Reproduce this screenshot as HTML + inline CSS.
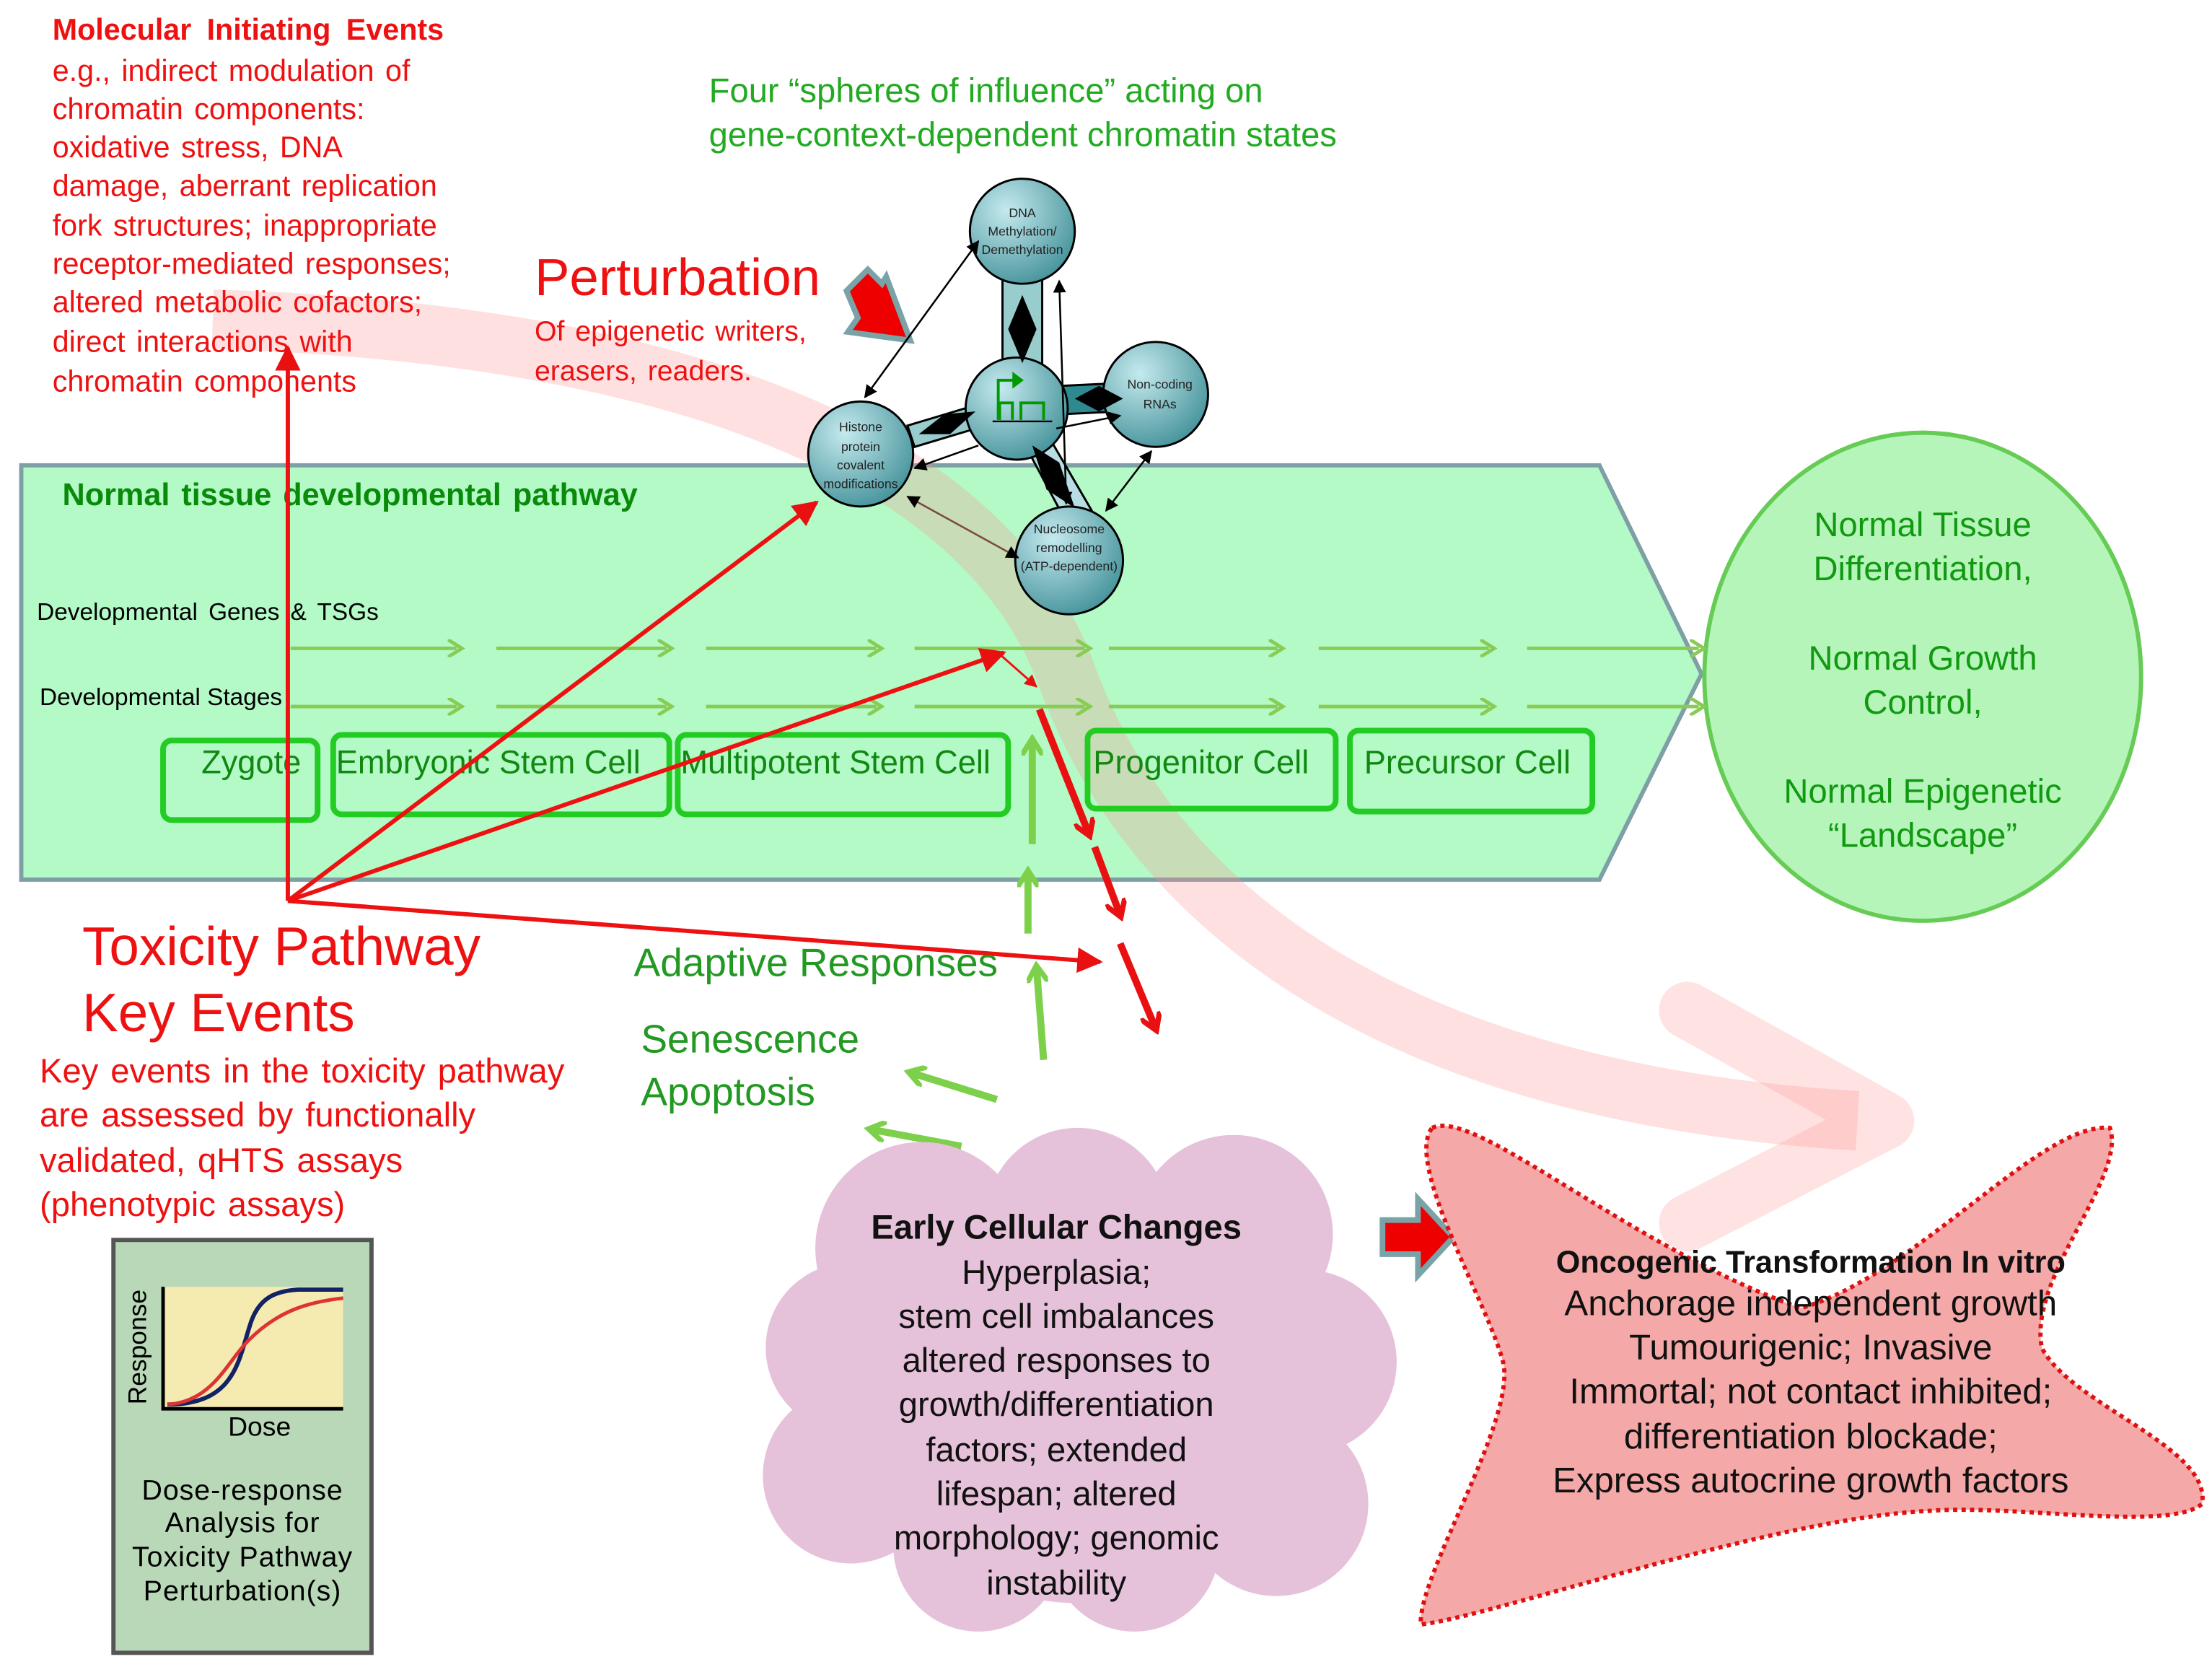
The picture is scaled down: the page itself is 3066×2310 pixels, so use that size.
<!DOCTYPE html>
<html><head><meta charset="utf-8"><style>html,body{margin:0;padding:0;background:#fff}svg{display:block}</style></head>
<body>
<svg width="3066" height="2310" viewBox="0 0 1560 1175" preserveAspectRatio="none" xmlns="http://www.w3.org/2000/svg" font-family="Liberation Sans, sans-serif">
<defs>
<radialGradient id="ng" cx="0.35" cy="0.3" r="0.8"><stop offset="0" stop-color="#c4eaee"/><stop offset="1" stop-color="#3f8e96"/></radialGradient>
<marker id="ar" viewBox="0 0 10 10" refX="9" refY="5" markerWidth="6" markerHeight="6" orient="auto-start-reverse"><path d="M0,0L10,5L0,10z" fill="#e81010"/></marker>
<marker id="ab" viewBox="0 0 10 10" refX="9" refY="5" markerWidth="7" markerHeight="7" orient="auto-start-reverse"><path d="M0,0L10,5L0,10z" fill="#000"/></marker>
<marker id="ag" viewBox="0 0 10 10" refX="5" refY="5" markerWidth="5" markerHeight="5" orient="auto"><path d="M0,0L8,5L0,10" fill="none" stroke="#88cc55" stroke-width="2"/></marker>
<marker id="agt" viewBox="0 0 10 10" refX="7" refY="5" markerWidth="3" markerHeight="3" orient="auto"><path d="M0,0L8,5L0,10" fill="none" stroke="#7cd04a" stroke-width="2.5"/></marker>
<marker id="art" viewBox="0 0 10 10" refX="7" refY="5" markerWidth="3" markerHeight="3" orient="auto"><path d="M0,0L8,5L0,10" fill="none" stroke="#e81010" stroke-width="2.5"/></marker>
</defs>

<!-- green pathway -->
<path d="M15,328 L1128,328 L1200,475 L1128,620 L15,620 Z" fill="#b3fac7" stroke="#7f9fa6" stroke-width="3"/>
<ellipse cx="1356" cy="477" rx="154" ry="172" fill="#b5f5ba" stroke="#66cc55" stroke-width="3"/>

<!-- pink band -->
<path d="M150,225 C480,235 690,320 750,470 C810,640 980,770 1310,790" fill="none" stroke="#ff9090" stroke-opacity="0.28" stroke-width="42"/>
<path d="M1190,712 L1330,790 L1190,862" fill="none" stroke="#ff9090" stroke-opacity="0.25" stroke-width="40" stroke-linejoin="round" stroke-linecap="round"/>

<!-- top-left text -->
<g fill="#ee1111" font-size="21" word-spacing="2">
<text x="37" y="28" font-weight="bold" word-spacing="5">Molecular  Initiating  Events</text>
<text x="37" y="57">e.g., indirect modulation  of</text>
<text x="37" y="84">chromatin components:</text>
<text x="37" y="111">oxidative stress, DNA</text>
<text x="37" y="138">damage, aberrant replication</text>
<text x="37" y="166">fork structures;  inappropriate</text>
<text x="37" y="193">receptor-mediated responses;</text>
<text x="37" y="220">altered metabolic cofactors;</text>
<text x="37" y="248">direct interactions with</text>
<text x="37" y="276">chromatin components</text>
</g>
<g fill="#22aa22" font-size="24">
<text x="500" y="72">Four “spheres of influence” acting on</text>
<text x="500" y="103">gene-context-dependent chromatin states</text>
</g>
<text x="377" y="208" fill="#ee1111" font-size="37">Perturbation</text>
<text x="377" y="240" fill="#ee1111" font-size="20" word-spacing="2">Of epigenetic writers,</text>
<text x="377" y="268" fill="#ee1111" font-size="20" word-spacing="2">erasers, readers.</text>
<path d="M597,205 L612,190 L622,200 L625,195 L642,240 L598,234 L605,224 Z" fill="#e00" stroke="#7aa3a8" stroke-width="4"/>

<!-- chromatin nodes -->
<g stroke="#000" stroke-width="1.5">
<rect x="707" y="190" width="28" height="70" fill="#9cc" />
<path d="M640,300 L690,285 L695,300 L645,315Z" fill="#9cc"/>
<path d="M748,272 L790,270 L790,290 L748,292Z" fill="#2f8a90"/>
<path d="M722,312 L738,305 L770,360 L752,368Z" fill="#b8dde2"/>
</g>
<circle cx="721" cy="163" r="37" fill="url(#ng)" stroke="#000" stroke-width="1.5"/>
<circle cx="717" cy="288" r="36" fill="url(#ng)" stroke="#000" stroke-width="1.5"/>
<circle cx="815" cy="278" r="37" fill="url(#ng)" stroke="#000" stroke-width="1.5"/>
<circle cx="607" cy="320" r="37" fill="url(#ng)" stroke="#000" stroke-width="1.5"/>
<circle cx="754" cy="395" r="38" fill="url(#ng)" stroke="#000" stroke-width="1.5"/>
<path d="M721,208 L731,232 L721,256 L711,232Z M648,306 L666,292 L688,290 L670,306Z M758,281 L775,272 L792,281 L775,290Z M728,314 L747,326 L758,358 L738,345Z" fill="#000"/>
<path d="M704,296 L704,268 L716,268" fill="none" stroke="#009900" stroke-width="2"/><path d="M714,262 L722,268 L714,274Z" fill="#009900"/>
<path d="M705,296 L705,284 L714,284 L714,296 M720,296 L720,284 L736,284 L736,296" fill="none" stroke="#009900" stroke-width="2"/>
<line x1="700" y1="297" x2="742" y2="297" stroke="#000" stroke-width="1.2"/>
<g stroke="#000" stroke-width="1.3" fill="none" marker-start="url(#ab)" marker-end="url(#ab)">
<line x1="690" y1="170" x2="610" y2="280"/>
<line x1="747" y1="198" x2="752" y2="355"/>
<line x1="812" y1="318" x2="780" y2="360"/>
<line x1="640" y1="350" x2="718" y2="393" stroke="#7a4a40"/>
</g>
<line x1="690" y1="314" x2="645" y2="330" stroke="#000" stroke-width="1.3" marker-end="url(#ab)"/>
<line x1="745" y1="302" x2="790" y2="293" stroke="#000" stroke-width="1.3" marker-end="url(#ab)"/>
<g font-size="9" fill="#222" text-anchor="middle">
<text x="721" y="153">DNA</text><text x="721" y="166">Methylation/</text><text x="721" y="179">Demethylation</text>
<text x="818" y="274">Non-coding</text><text x="818" y="288">RNAs</text>
<text x="607" y="304">Histone</text><text x="607" y="318">protein</text><text x="607" y="331">covalent</text><text x="607" y="344">modifications</text>
<text x="754" y="376">Nucleosome</text><text x="754" y="389">remodelling</text><text x="754" y="402">(ATP-dependent)</text>
</g>

<!-- pathway internals -->
<text x="44" y="356" fill="#0a8a0a" font-size="22" font-weight="bold" word-spacing="2">Normal tissue developmental pathway</text>
<text x="26" y="437" font-size="17" word-spacing="3">Developmental  Genes  &amp; TSGs</text>
<text x="28" y="497" font-size="17">Developmental  Stages</text>
<g stroke="#88cc55" stroke-width="2.5" marker-end="url(#ag)">
<line x1="205" y1="457" x2="322" y2="457"/><line x1="350" y1="457" x2="470" y2="457"/><line x1="498" y1="457" x2="618" y2="457"/><line x1="645" y1="457" x2="765" y2="457"/><line x1="782" y1="457" x2="901" y2="457"/><line x1="930" y1="457" x2="1050" y2="457"/><line x1="1077" y1="457" x2="1198" y2="457"/>
<line x1="205" y1="498" x2="322" y2="498"/><line x1="350" y1="498" x2="470" y2="498"/><line x1="498" y1="498" x2="618" y2="498"/><line x1="645" y1="498" x2="765" y2="498"/><line x1="782" y1="498" x2="901" y2="498"/><line x1="930" y1="498" x2="1050" y2="498"/><line x1="1077" y1="498" x2="1198" y2="498"/>
</g>
<g fill="none" stroke="#22cc22" stroke-width="4">
<rect x="115" y="522" width="109" height="56" rx="6"/>
<rect x="235" y="518" width="237" height="56" rx="6"/>
<rect x="478" y="518" width="233" height="56" rx="6"/>
<rect x="767" y="515" width="175" height="55" rx="6"/>
<rect x="952" y="515" width="171" height="57" rx="6"/>
</g>
<g fill="#118811" font-size="23">
<text x="142" y="545">Zygote</text>
<text x="237" y="545">Embryonic  Stem  Cell</text>
<text x="480" y="545">Multipotent  Stem  Cell</text>
<text x="771" y="545">Progenitor Cell</text>
<text x="962" y="545">Precursor Cell</text>
</g>
<g fill="#119911" font-size="24" text-anchor="middle">
<text x="1356" y="378">Normal Tissue</text><text x="1356" y="409">Differentiation,</text>
<text x="1356" y="472">Normal Growth</text><text x="1356" y="503">Control,</text>
<text x="1356" y="566">Normal Epigenetic</text><text x="1356" y="597">“Landscape”</text>
</g>

<!-- red arrows -->
<g stroke="#ee1111" stroke-width="3" fill="none" marker-end="url(#ar)">
<line x1="203" y1="635" x2="203" y2="245"/>
<line x1="203" y1="635" x2="576" y2="354"/>
<line x1="203" y1="635" x2="708" y2="460"/>
<line x1="203" y1="635" x2="776" y2="678"/>
</g>
<line x1="706" y1="462" x2="731" y2="484" stroke="#ee1111" stroke-width="1.5" marker-end="url(#ar)"/>
<g stroke="#e81010" stroke-width="5" fill="none" marker-end="url(#art)">
<line x1="733" y1="500" x2="768" y2="588"/>
<line x1="772" y1="597" x2="790" y2="645"/>
<line x1="790" y1="665" x2="815" y2="725"/>
</g>
<!-- green arrows -->
<g stroke="#7cd04a" stroke-width="5" fill="none" marker-end="url(#agt)">
<line x1="728" y1="595" x2="728" y2="522"/>
<line x1="725" y1="658" x2="725" y2="615"/>
<line x1="736" y1="747" x2="731" y2="682"/>
<line x1="703" y1="775" x2="642" y2="756"/>
<line x1="678" y1="808" x2="614" y2="796"/>
</g>

<text x="58" y="680" fill="#ee1111" font-size="38">Toxicity Pathway</text>
<text x="58" y="727" fill="#ee1111" font-size="38">Key Events</text>
<g fill="#ee1111" font-size="24" word-spacing="2">
<text x="28" y="763">Key events in the toxicity pathway</text>
<text x="28" y="794">are assessed by functionally</text>
<text x="28" y="826">validated, qHTS assays</text>
<text x="28" y="857">(phenotypic assays)</text>
</g>
<text x="447" y="688" fill="#229922" font-size="28">Adaptive Responses</text>
<text x="452" y="742" fill="#229922" font-size="28">Senescence</text>
<text x="452" y="779" fill="#229922" font-size="28">Apoptosis</text>

<!-- dose box -->
<rect x="80" y="874" width="182" height="291" fill="#b8d8b8" stroke="#555" stroke-width="3"/>
<rect x="115" y="907" width="127" height="86" fill="#f5eab0"/>
<path d="M115,907 L115,993 L242,993" fill="none" stroke="#000" stroke-width="2.5"/>
<path d="M118,990 C165,990 168,960 176,935 C182,914 195,910 210,909 L242,909" fill="none" stroke="#112266" stroke-width="3"/>
<path d="M118,990 C150,988 160,960 175,945 C195,925 215,918 242,915" fill="none" stroke="#dd3333" stroke-width="2.5"/>
<text x="0" y="0" font-size="18" transform="translate(103,990) rotate(-90)">Response</text>
<text x="183" y="1012" font-size="19" text-anchor="middle">Dose</text>
<g font-size="20" text-anchor="middle" letter-spacing="0.5">
<text x="171" y="1057">Dose-response</text><text x="171" y="1080">Analysis for</text><text x="171" y="1104">Toxicity Pathway</text><text x="171" y="1128">Perturbation(s)</text>
</g>

<!-- cloud -->
<g fill="#e6c2da">
<circle cx="650" cy="880" r="75"/><circle cx="760" cy="860" r="65"/><circle cx="870" cy="870" r="70"/>
<circle cx="920" cy="960" r="65"/><circle cx="900" cy="1060" r="65"/><circle cx="800" cy="1090" r="60"/>
<circle cx="690" cy="1090" r="60"/><circle cx="600" cy="1040" r="62"/><circle cx="600" cy="950" r="60"/>
<circle cx="760" cy="980" r="150"/>
</g>
<g font-size="24" text-anchor="middle" fill="#111">
<text x="745" y="873" font-weight="bold">Early Cellular Changes</text>
<text x="745" y="905">Hyperplasia;</text><text x="745" y="936">stem cell imbalances</text>
<text x="745" y="967">altered responses to</text><text x="745" y="998">growth/differentiation</text>
<text x="745" y="1030">factors; extended</text><text x="745" y="1061">lifespan; altered</text>
<text x="745" y="1092">morphology; genomic</text><text x="745" y="1124">instability</text>
</g>
<path d="M975,860 L1000,860 L1000,845 L1025,872 L1000,899 L1000,884 L975,884Z" fill="#e00" stroke="#7aa3a8" stroke-width="4"/>

<!-- star -->
<path d="M1010,795 C1040,780 1150,880 1270,922 C1350,900 1440,790 1488,795 C1500,830 1430,900 1440,950 C1460,990 1560,1020 1553,1060 C1530,1080 1420,1060 1360,1065 C1250,1070 1050,1140 1002,1145 C1000,1110 1070,1000 1060,960 C1050,920 990,820 1010,795Z" fill="#f5a8a8" stroke="#e01010" stroke-width="3" stroke-dasharray="3,3"/>
<g text-anchor="middle" fill="#111">
<text x="1277" y="897" font-size="22" font-weight="bold">Oncogenic Transformation In vitro</text>
<g font-size="25">
<text x="1277" y="927">Anchorage independent growth</text>
<text x="1277" y="958">Tumourigenic; Invasive</text>
<text x="1277" y="989">Immortal; not contact inhibited;</text>
<text x="1277" y="1021">differentiation blockade;</text>
<text x="1277" y="1052">Express autocrine growth factors</text>
</g></g>
</svg>
</body></html>
